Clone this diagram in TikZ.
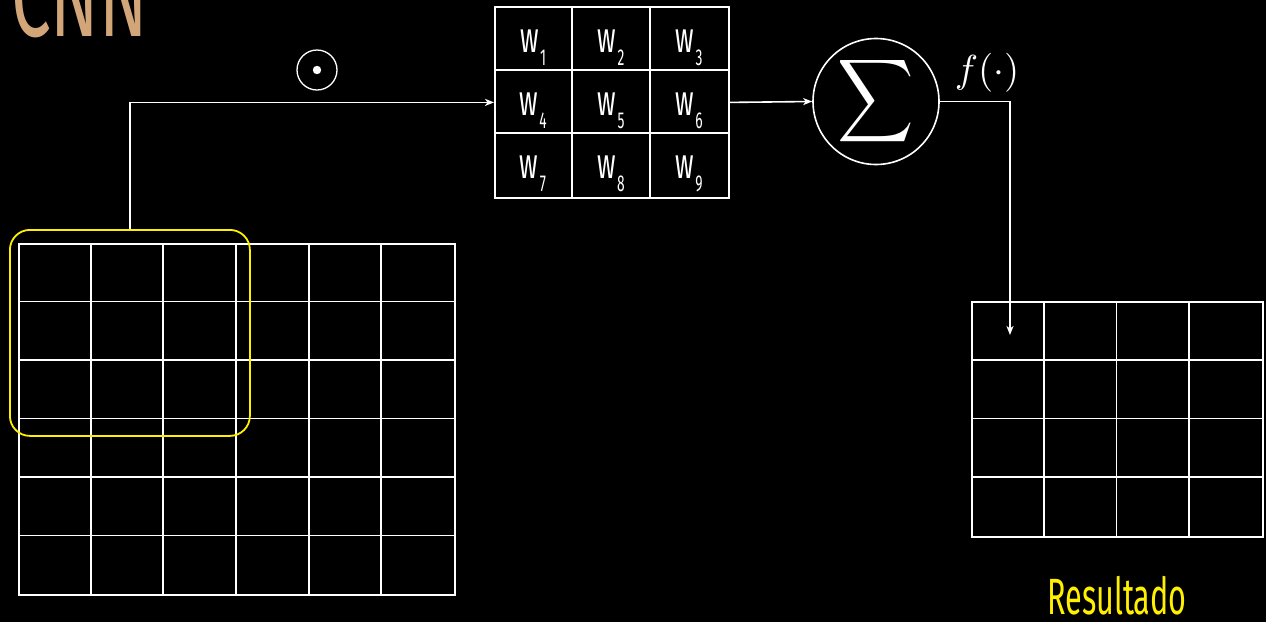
\documentclass[tikz,border=0pt]{standalone}
\usepackage{fontspec}
\usepackage{graphicx}
\usetikzlibrary{arrows.meta}
\newfontfamily\cfont[FakeStretch=0.6]{Fira Sans}
\definecolor{tanc}{RGB}{210,166,121}
\definecolor{yel}{RGB}{255,240,0}
\newcommand{\wlab}[1]{w\kern1.5pt\raisebox{-13pt}{\fontsize{23}{23}\selectfont #1}}
\begin{document}
\begin{tikzpicture}[x=1pt,y=-1pt,
  gl/.style={draw=white,line width=1.8pt},
  box/.style={draw=white,line width=1.8pt,inner sep=0pt,anchor=north west},
  conn/.style={draw=white,line width=1.6pt,-{Stealth[length=9pt,width=7pt,inset=2.5pt]}},
  wl/.style={text=white,font=\cfont\fontsize{43}{44}\selectfont,inner sep=0pt,anchor=base}]
\fill[black] (0,0) rectangle (1266,622);
\useasboundingbox (0,0) rectangle (1266,622);

% title
\node[text=tanc,font=\cfont\fontsize{118}{118}\selectfont,inner sep=0pt,anchor=base west] (title) at (11,36) {CNN};

% input grid 6x6
\node[box,minimum width=436pt,minimum height=351pt] (input) at (18,243) {};
\foreach \i in {1,...,5}{
  \draw[gl] ({18+\i*436/6},243) -- ({18+\i*436/6},594);
  \draw[gl] (18,{243+\i*351/6}) -- (454,{243+\i*351/6});
}

% sliding window
\node[draw=yel,line width=1.8pt,rounded corners=20pt,minimum width=240pt,minimum height=206pt,inner sep=0pt,anchor=north west] (window) at (9,229) {};

% kernel 3x3
\node[box,minimum width=234pt,minimum height=191pt] (kernel) at (494,6) {};
\foreach \i in {1,2}{
  \draw[gl] ({494+\i*78},6) -- ({494+\i*78},197);
  \draw[gl] (494,{6+\i*191/3}) -- (728,{6+\i*191/3});
}
\node[wl] (w1) at (533,52) {\wlab{1}};
\node[wl] (w2) at (611,52) {\wlab{2}};
\node[wl] (w3) at (689,52) {\wlab{3}};
\node[wl] (w4) at (533,115) {\wlab{4}};
\node[wl] (w5) at (611,115) {\wlab{5}};
\node[wl] (w6) at (689,115) {\wlab{6}};
\node[wl] (w7) at (533,178) {\wlab{7}};
\node[wl] (w8) at (611,178) {\wlab{8}};
\node[wl] (w9) at (689,178) {\wlab{9}};

% odot
\node[draw=white,circle,line width=1.3pt,minimum size=40pt,inner sep=0pt] (odot) at (317,70) {};
\fill[white] (odot.center) circle (4.2pt);

% sum
\node[draw=white,circle,line width=1.6pt,minimum size=126pt,inner sep=0pt,text=white] (sum) at (876,101.5) {\scalebox{5.3}[5.8]{$\displaystyle\sum$}};
\node[text=white,inner sep=0pt] (f) at (987,73) {\scalebox{3.9}{$f(\cdot)$}};

% output grid 4x4
\node[box,minimum width=291pt,minimum height=235pt] (output) at (971,301) {};
\foreach \i in {1,2,3}{
  \draw[gl] ({971+\i*291/4},301) -- ({971+\i*291/4},536);
  \draw[gl] (971,{301+\i*235/4}) -- (1262,{301+\i*235/4});
}
\node[text=yel,font=\cfont\fontsize{51}{51}\selectfont,inner sep=0pt,anchor=base] (res) at (1117,614) {Resultado};

% connectors
\coordinate (tgt) at (1010,335);
\draw[conn] (window.north) |- (kernel.west);
\draw[conn] (kernel.east) -- (sum.west);
\draw[conn] (sum.east) -| (tgt);
\end{tikzpicture}
\end{document}
